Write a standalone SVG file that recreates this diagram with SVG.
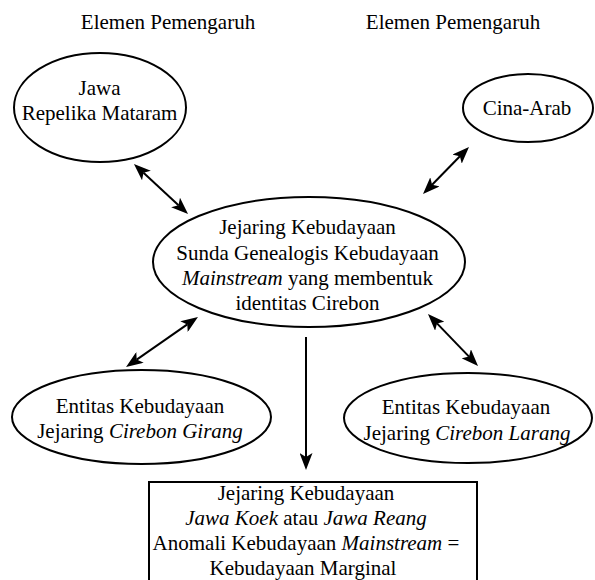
<svg xmlns="http://www.w3.org/2000/svg" width="595" height="580" viewBox="0 0 595 580">
<style>
  text { font-family: "Liberation Serif", "Times New Roman", serif; font-size: 21px; fill: #000; text-anchor: middle; }
  .it { font-style: italic; }
  .node { fill: #fff; stroke: #000; stroke-width: 2; }
  .conn { stroke: #000; stroke-width: 2; fill: none; }
</style>
<defs>
  <marker id="ah" markerUnits="userSpaceOnUse" markerWidth="17" markerHeight="13" refX="4" refY="6.5" orient="auto-start-reverse" viewBox="0 0 17 13">
    <path d="M0,0 L17,6.5 L0,13 L4,6.5 z" fill="#000"/>
  </marker>
</defs>
<rect width="595" height="580" fill="#fff"/>
<g id="titles">
  <text x="168" y="29">Elemen Pemengaruh</text>
  <text x="453" y="29">Elemen Pemengaruh</text>
</g>
<g id="jawa">
  <ellipse class="node" cx="100" cy="107.5" rx="86" ry="54.5"/>
  <text x="99.5" y="95">Jawa</text>
  <text x="99.5" y="120">Repelika Mataram</text>
</g>
<g id="cina">
  <ellipse class="node" cx="528" cy="108" rx="65" ry="34"/>
  <text x="527" y="115">Cina-Arab</text>
</g>
<g id="center">
  <ellipse class="node" cx="309" cy="262" rx="156" ry="65"/>
  <text x="307.5" y="234">Jejaring Kebudayaan</text>
  <text x="307.5" y="260">Sunda Genealogis Kebudayaan</text>
  <text x="307.5" y="285"><tspan class="it">Mainstream</tspan> yang membentuk</text>
  <text x="307.5" y="310">identitas Cirebon</text>
</g>
<g id="girang">
  <ellipse class="node" cx="141.5" cy="417" rx="129.5" ry="47"/>
  <text x="140" y="413">Entitas Kebudayaan</text>
  <text x="140" y="438">Jejaring <tspan class="it">Cirebon Girang</tspan></text>
</g>
<g id="larang">
  <ellipse class="node" cx="468" cy="418" rx="124" ry="45"/>
  <text x="466" y="414">Entitas Kebudayaan</text>
  <text x="467" y="440">Jejaring <tspan class="it">Cirebon Larang</tspan></text>
</g>
<g id="marginal">
  <rect class="node" x="149" y="482" width="328" height="120"/>
  <text x="306" y="500">Jejaring Kebudayaan</text>
  <text x="306" y="525"><tspan class="it">Jawa Koek</tspan> atau <tspan class="it">Jawa Reang</tspan></text>
  <text x="306" y="550">Anomali Kebudayaan <tspan class="it">Mainstream</tspan> =</text>
  <text x="303" y="575">Kebudayaan Marginal</text>
</g>
<g id="connectors">
  <line class="conn" x1="143.5" y1="172.8" x2="178.5" y2="205.2" marker-start="url(#ah)" marker-end="url(#ah)"/>
  <line class="conn" x1="459.9" y1="156.3" x2="432.1" y2="184.7" marker-start="url(#ah)" marker-end="url(#ah)"/>
  <line class="conn" x1="187.3" y1="324.4" x2="136.7" y2="359.6" marker-start="url(#ah)" marker-end="url(#ah)"/>
  <line class="conn" x1="437" y1="323.4" x2="469" y2="356.6" marker-start="url(#ah)" marker-end="url(#ah)"/>
  <line class="conn" x1="306" y1="337" x2="306" y2="457" marker-end="url(#ah)"/>
</g>
</svg>
